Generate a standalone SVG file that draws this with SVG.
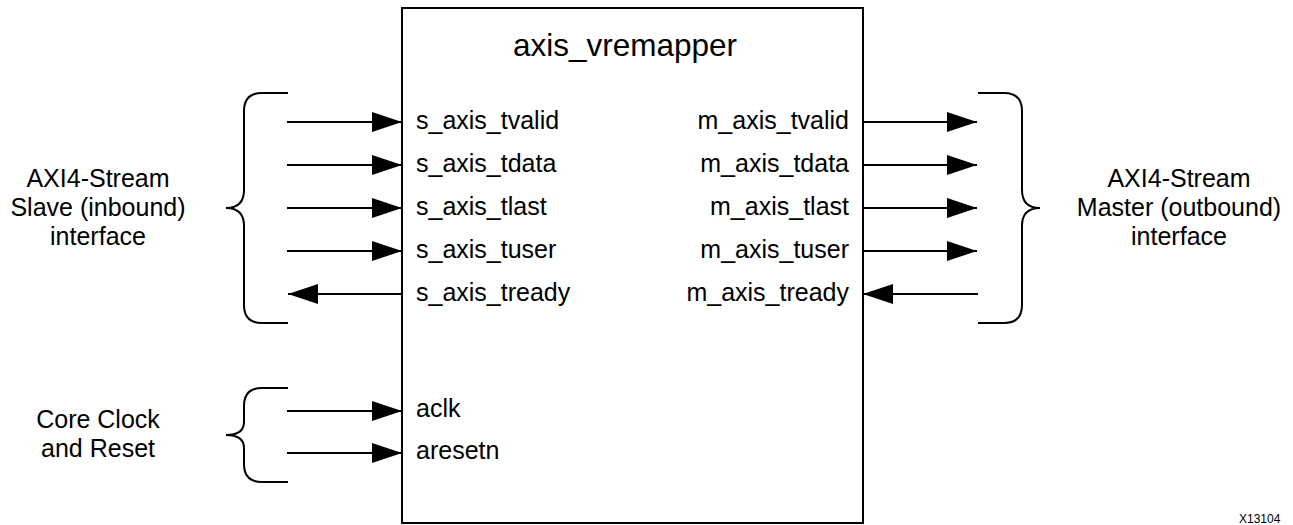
<svg xmlns="http://www.w3.org/2000/svg" width="1293" height="525" viewBox="0 0 1293 525">
  <style>
    .line { stroke: #000; stroke-width: 2; fill: none; }
    .brace { stroke: #000; stroke-width: 2; fill: none; }
    .head { fill: #000; stroke: none; }
    text { font-family: "Liberation Sans", Arial, Helvetica, sans-serif; fill: #000; }
    .port { font-size: 25px; }
    .title { font-size: 31.5px; }
    .side { font-size: 25px; text-anchor: middle; }
    .tag { font-size: 12px; }
  </style>
  <defs>
    <marker id="arrow" viewBox="0 0 30 20" refX="30" refY="10" markerWidth="30" markerHeight="20" markerUnits="userSpaceOnUse" orient="auto">
      <path class="head" d="M0,0 L30,10 L0,20 Z"/>
    </marker>
  </defs>
  <rect width="1293" height="525" fill="#fff"/>

  <!-- core block -->
  <g id="core">
    <rect x="402" y="8" width="461" height="515" class="line"/>
    <text class="title" x="513" y="56">axis_vremapper</text>
    <text class="port" x="416" y="129">s_axis_tvalid</text>
    <text class="port" x="416" y="172">s_axis_tdata</text>
    <text class="port" x="416" y="215">s_axis_tlast</text>
    <text class="port" x="416" y="258">s_axis_tuser</text>
    <text class="port" x="416" y="301">s_axis_tready</text>
    <text class="port" x="849" y="129" text-anchor="end">m_axis_tvalid</text>
    <text class="port" x="849" y="172" text-anchor="end">m_axis_tdata</text>
    <text class="port" x="849" y="215" text-anchor="end">m_axis_tlast</text>
    <text class="port" x="849" y="258" text-anchor="end">m_axis_tuser</text>
    <text class="port" x="849" y="301" text-anchor="end">m_axis_tready</text>
    <text class="port" x="416" y="417">aclk</text>
    <text class="port" x="416" y="459">aresetn</text>
  </g>

  <!-- slave interface group -->
  <g id="slave-if">
    <path class="brace" d="M288,93 H262 Q244,93 244,111 V190 Q244,208 226,208 Q244,208 244,226 V305 Q244,323 262,323 H288"/>
    <text class="side" x="98" y="187">AXI4-Stream</text>
    <text class="side" x="98" y="216">Slave (inbound)</text>
    <text class="side" x="98" y="245">interface</text>
  </g>

  <!-- master interface group -->
  <g id="master-if">
    <path class="brace" d="M978,93 H1004 Q1022,93 1022,111 V190 Q1022,208 1040,208 Q1022,208 1022,226 V305 Q1022,323 1004,323 H978"/>
    <text class="side" x="1179" y="187">AXI4-Stream</text>
    <text class="side" x="1179" y="216">Master (outbound)</text>
    <text class="side" x="1179" y="245">interface</text>
  </g>

  <!-- clock and reset group -->
  <g id="clk-rst">
    <path class="brace" d="M288,388 H262 Q244,388 244,406 V422 Q244,435 226,435 Q244,435 244,448 V464 Q244,482 262,482 H288"/>
    <text class="side" x="98" y="428">Core Clock</text>
    <text class="side" x="98" y="457">and Reset</text>
  </g>

  <!-- signal connectors -->
  <g id="connectors" class="line" marker-end="url(#arrow)">
    <line x1="287" y1="122" x2="402" y2="122"/>
    <line x1="287" y1="165" x2="402" y2="165"/>
    <line x1="287" y1="208" x2="402" y2="208"/>
    <line x1="287" y1="251" x2="402" y2="251"/>
    <line x1="402" y1="294" x2="288" y2="294"/>
    <line x1="863" y1="122" x2="977" y2="122"/>
    <line x1="863" y1="165" x2="977" y2="165"/>
    <line x1="863" y1="208" x2="977" y2="208"/>
    <line x1="863" y1="251" x2="977" y2="251"/>
    <line x1="978" y1="294" x2="863" y2="294"/>
    <line x1="287" y1="411" x2="402" y2="411"/>
    <line x1="287" y1="453" x2="402" y2="453"/>
  </g>

  <text class="tag" x="1239" y="523">X13104</text>
</svg>
